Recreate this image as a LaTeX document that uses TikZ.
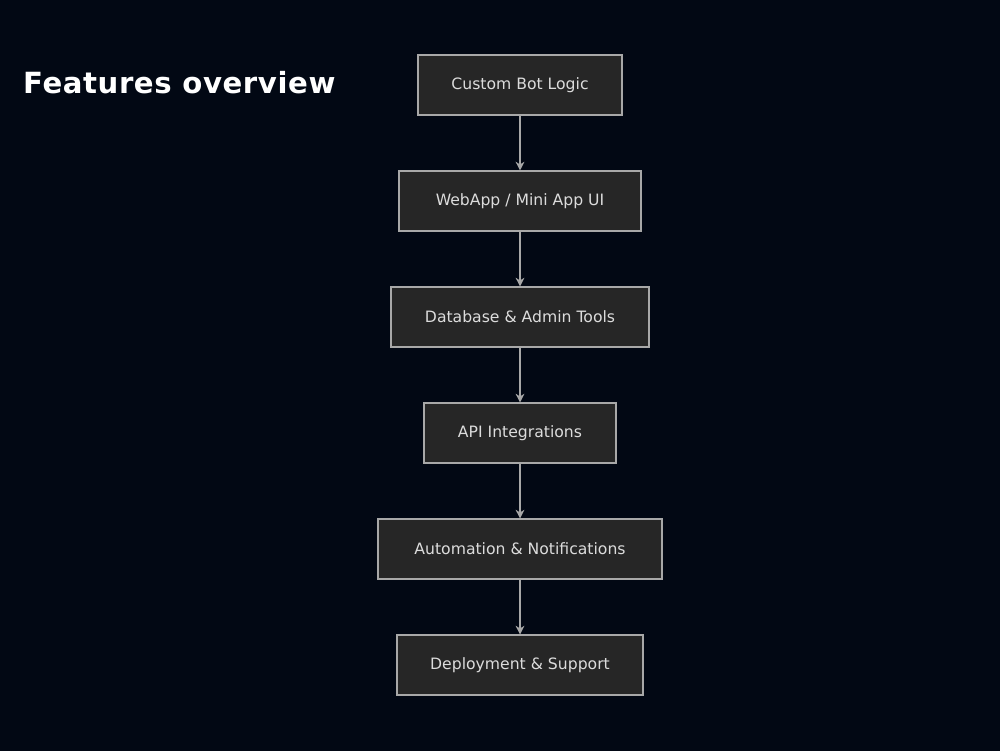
\documentclass[tikz,border=0pt]{standalone}
\usepackage{fontspec}
\setmainfont{DejaVu Sans}
\usetikzlibrary{arrows.meta}
\definecolor{bg}{HTML}{020814}
\definecolor{boxfill}{HTML}{262626}
\definecolor{boxline}{HTML}{A8A8A8}
\definecolor{txt}{HTML}{DCDCDC}
\begin{document}
\begin{tikzpicture}[x=0.02cm,y=-0.02cm,
  box/.style={draw=boxline,fill=boxfill,line width=0.6pt,minimum height=60*0.02cm,text=txt,font=\fontsize{8.9}{10}\selectfont,inner sep=0pt},
  arr/.style={draw=boxline,line width=0.6pt,-{Stealth[length=5pt,width=5pt]}}]
\fill[bg] (0,0) rectangle (1000,751);
\useasboundingbox (0,0) rectangle (1000,751);
\node[anchor=west,text=white,font=\bfseries\fontsize{16.6}{20}\selectfont] (title) at (17,83) {\addfontfeature{LetterSpace=2}Features overview};
\node[box,minimum width=204*0.02cm] (a) at (520,85) {Custom Bot Logic};
\node[box,minimum width=242*0.02cm] (b) at (520,201) {WebApp / Mini App UI};
\node[box,minimum width=258*0.02cm] (c) at (520,317) {Database \& Admin Tools};
\node[box,minimum width=192*0.02cm] (d) at (520,433) {API Integrations};
\node[box,minimum width=284*0.02cm] (e) at (520,549) {Automation \& Notifications};
\node[box,minimum width=246*0.02cm] (f) at (520,665) {Deployment \& Support};
\draw[arr] (a) -- (b);
\draw[arr] (b) -- (c);
\draw[arr] (c) -- (d);
\draw[arr] (d) -- (e);
\draw[arr] (e) -- (f);
\end{tikzpicture}
\end{document}
